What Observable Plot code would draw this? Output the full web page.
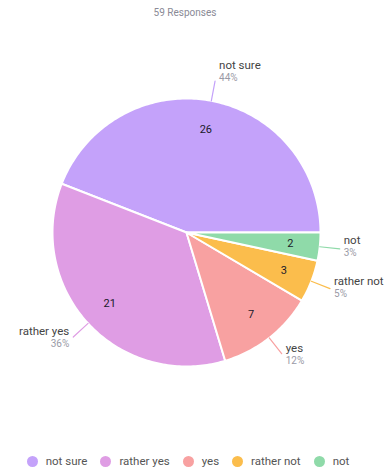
<!DOCTYPE html>
<html>
<head>
<meta charset="utf-8">
<script src="https://cdn.jsdelivr.net/npm/d3@7"></script>
<script src="https://cdn.jsdelivr.net/npm/@observablehq/plot@0.6"></script>
<style>
  html, body { margin: 0; padding: 0; background: #fff; }
  body { width: 390px; height: 470px; overflow: hidden; font-family: Roboto, "Noto Sans", sans-serif; }
  #sub { height: 24px; box-sizing: border-box; padding-top: 7px; padding-right: 20px; line-height: 12px; text-align: center; font-size: 10px; color: #8a8a96; }
  #legend { display: flex; justify-content: center; align-items: center; font-size: 11.5px; color: #555; height: 26px; margin-top: 4px; margin-left: -14px; }
  #legend .item { display: flex; align-items: center; margin: 0 6.5px; }
  #legend .sw { width: 11px; height: 11px; border-radius: 50%; margin-right: 8px; display: inline-block; }
</style>
</head>
<body>
<div id="sub"></div>
<div id="chart"></div>
<div id="legend"></div>
<script>
// ---- data ----
const categories = ["not sure", "rather yes", "yes", "rather not", "not"];
const counts = [26, 21, 7, 3, 2];
const percentLabels = ["44%", "36%", "12%", "5%", "3%"];
const colors = ["#c4a2fa", "#df9de4", "#f8a1a1", "#fbbd4c", "#8fdaa9"];
const subtitle = "59 Responses";

document.getElementById("sub").textContent = subtitle;

// ---- geometry derived from the data ----
const total = d3.sum(counts);
const W = 390, H = 420;
const cx = 186, cy = 208, R = 134;   // pixel layout of the pie
const slices = [];
let acc = 0;
counts.forEach((c, i) => {
  const a0 = acc / total * 2 * Math.PI;
  acc += c;
  const a1 = acc / total * 2 * Math.PI;
  slices.push({cat: categories[i], count: c, pct: percentLabels[i], a0, a1, mid: (a0 + a1) / 2});
});

const poly = [];
for (const s of slices) {
  poly.push({cat: s.cat, x: 0, y: 0});
  const n = Math.max(2, Math.ceil((s.a1 - s.a0) / (Math.PI / 180)));
  for (let k = 0; k <= n; k++) {
    const a = s.a0 + (s.a1 - s.a0) * k / n;
    poly.push({cat: s.cat, x: Math.cos(a), y: Math.sin(a)});
  }
  poly.push({cat: s.cat, x: 0, y: 0});
}

const inner = slices.map(s => ({text: String(s.count), x: 0.78 * Math.cos(s.mid), y: 0.78 * Math.sin(s.mid)}));
const leaders = [];
slices.forEach(s => {
  leaders.push({cat: s.cat, x: Math.cos(s.mid), y: Math.sin(s.mid)});
  leaders.push({cat: s.cat, x: 1.15 * Math.cos(s.mid), y: 1.15 * Math.sin(s.mid)});
});
const outer = slices.map(s => {
  const ex = 1.15 * Math.cos(s.mid), ey = 1.15 * Math.sin(s.mid);
  const right = Math.cos(s.mid) >= 0;
  const sn = Math.sin(s.mid);
  return {
    name: s.cat, pct: s.pct, x: ex, y: ey, right,
    dx: right ? 4 : -4,
    dyName: -6 - 6 * sn,
    dyPct: 6 - 6 * sn
  };
});

const xDom = [-cx / R, (W - cx) / R];
const yDom = [-(H - cy) / R, cy / R];

const plot = Plot.plot({
  width: W, height: H,
  margin: 0,
  x: {domain: xDom, axis: null},
  y: {domain: yDom, axis: null},
  color: {domain: categories, range: colors},
  style: {fontFamily: "Roboto, 'Noto Sans', sans-serif", background: "white"},
  marks: [
    Plot.line(poly, {x: "x", y: "y", z: "cat", fill: "cat", stroke: "white", strokeWidth: 2, strokeLinejoin: "round"}),
    Plot.line(leaders, {x: "x", y: "y", z: "cat", stroke: "cat", strokeWidth: 1.2}),
    Plot.text(inner, {x: "x", y: "y", text: "text", fill: "#1a1a2a", fontSize: 11}),
    ...outer.map(d => Plot.text([d], {x: "x", y: "y", text: "name", textAnchor: d.right ? "start" : "end", dx: d.dx, dy: d.dyName, fill: "#444", fontSize: 11.5, lineAnchor: "bottom"})),
    ...outer.map(d => Plot.text([d], {x: "x", y: "y", text: "pct", textAnchor: d.right ? "start" : "end", dx: d.dx, dy: d.dyPct, fill: "#9a9aa6", fontSize: 10, lineAnchor: "bottom"}))
  ]
});
document.getElementById("chart").appendChild(plot);

// legend
const lg = document.getElementById("legend");
categories.forEach((c, i) => {
  const it = document.createElement("span");
  it.className = "item";
  const sw = document.createElement("span");
  sw.className = "sw";
  sw.style.background = colors[i];
  it.appendChild(sw);
  it.appendChild(document.createTextNode(c));
  lg.appendChild(it);
});
</script>
</body>
</html>
